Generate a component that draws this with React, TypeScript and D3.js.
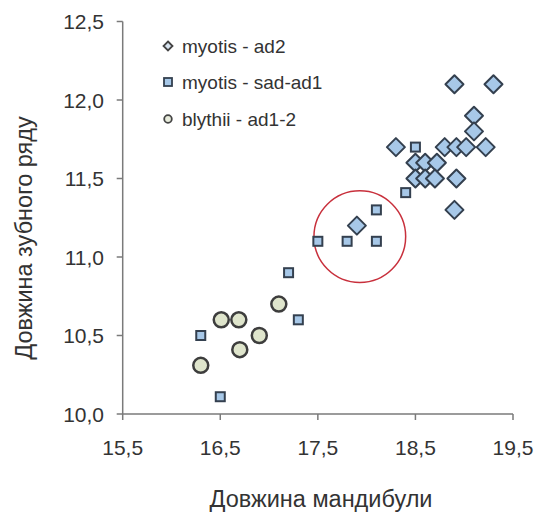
import React from "react";
import * as d3 from "d3";

const xTicks = [15.5, 16.5, 17.5, 18.5, 19.5];
const yTicks = [10.0, 10.5, 11.0, 11.5, 12.0, 12.5];

const adX = [18.3, 18.8, 18.92, 19.02, 19.22, 18.9, 19.3, 19.1, 19.1, 18.5, 18.6, 18.72, 18.5, 18.6, 18.7, 18.92, 18.9, 17.9];
const adY = [11.7, 11.7, 11.7, 11.7, 11.7, 12.1, 12.1, 11.9, 11.8, 11.6, 11.6, 11.6, 11.5, 11.5, 11.5, 11.5, 11.3, 11.2];

const sadX = [16.3, 16.5, 17.2, 17.3, 17.5, 17.8, 18.1, 18.1, 18.4, 18.5];
const sadY = [10.5, 10.11, 10.9, 10.6, 11.1, 11.1, 11.1, 11.3, 11.41, 11.7];

const blyX = [16.3, 16.51, 16.69, 16.7, 16.9, 17.1];
const blyY = [10.31, 10.6, 10.6, 10.41, 10.5, 10.7];

const legendLabels = ["myotis - ad2", "myotis - sad-ad1", "blythii - ad1-2"];
const xTitle = "Довжина мандибули";
const yTitle = "Довжина зубного ряду";

const highlightCenter = [17.93, 11.13];
const highlightRadius = 0.47;

const fmt = (v: number) => v.toFixed(1).replace(".", ",");

export default function App() {
  const W = 540, H = 513;
  const x = d3.scaleLinear().domain([15.5, 19.5]).range([122.7, 513]);
  const y = d3.scaleLinear().domain([10, 12.5]).range([414, 21.5]);
  const font = "Liberation Sans, Arial, sans-serif";
  const axisColor = "#7a7a7a";
  const textColor = "#333";
  const blueFill = "#a7c8e8";
  const blueStroke = "#34404f";

  const diamond = (cx: number, cy: number, r: number) =>
    `M${cx},${cy - r}L${cx + r},${cy}L${cx},${cy + r}L${cx - r},${cy}Z`;

  const rx = x(highlightCenter[0] + highlightRadius) - x(highlightCenter[0]);

  return (
    <svg width={W} height={H} style={{ position: "absolute", left: 0, top: 0, background: "#fff" }} fontFamily={font}>
      {/* axes */}
      <line x1={x(15.5)} x2={x(15.5)} y1={y(12.5)} y2={y(10)} stroke={axisColor} strokeWidth={1.5} />
      <line x1={x(15.5)} x2={x(19.5)} y1={y(10)} y2={y(10)} stroke={axisColor} strokeWidth={1.5} />
      {yTicks.map((t) => (
        <g key={"y" + t}>
          <line x1={x(15.5) - 6} x2={x(15.5)} y1={y(t)} y2={y(t)} stroke={axisColor} strokeWidth={1.5} />
          <text x={104} y={y(t)} dy="0.36em" textAnchor="end" fontSize={21} fill={textColor}>{fmt(t)}</text>
        </g>
      ))}
      {xTicks.map((t) => (
        <g key={"x" + t}>
          <line x1={x(t)} x2={x(t)} y1={y(10)} y2={y(10) + 6} stroke={axisColor} strokeWidth={1.5} />
          <text x={x(t)} y={455} textAnchor="middle" fontSize={21} fill={textColor}>{fmt(t)}</text>
        </g>
      ))}
      <text x={321} y={507} textAnchor="middle" fontSize={23.5} fill={textColor}>{xTitle}</text>
      <text transform={`translate(32,${238}) rotate(-90)`} textAnchor="middle" fontSize={23.5} fill={textColor}>{yTitle}</text>

      {/* highlight circle */}
      <ellipse cx={x(highlightCenter[0])} cy={y(highlightCenter[1])} rx={rx} ry={rx} fill="none" stroke="#c8303c" strokeWidth={1.5} />

      {/* blythii circles */}
      {blyX.map((v, i) => (
        <circle key={"b" + i} cx={x(v)} cy={y(blyY[i])} r={7.5} fill="#dfe5cc" stroke="#3d3d3d" strokeWidth={2.5} />
      ))}
      {/* myotis sad-ad1 squares */}
      {sadX.map((v, i) => (
        <rect key={"s" + i} x={x(v) - 4.5} y={y(sadY[i]) - 4.5} width={9} height={9} fill={blueFill} stroke={blueStroke} strokeWidth={2} />
      ))}
      {/* myotis ad2 diamonds */}
      {adX.map((v, i) => (
        <path key={"d" + i} d={diamond(x(v), y(adY[i]), 9)} fill={blueFill} stroke={blueStroke} strokeWidth={2} strokeLinejoin="round" />
      ))}

      {/* legend */}
      <g>
        <path d={diamond(168, 46, 4.5)} fill="#d8e4f0" stroke="#444" strokeWidth={1.8} />
        <text x={182} y={46} dy="0.36em" fontSize={19} fill={textColor}>{legendLabels[0]}</text>
        <rect x={164} y={78} width={8} height={8} fill={blueFill} stroke={blueStroke} strokeWidth={1.8} />
        <text x={182} y={82} dy="0.36em" fontSize={19} fill={textColor}>{legendLabels[1]}</text>
        <circle cx={168} cy={119} r={3.8} fill="#e8ecdc" stroke="#444" strokeWidth={1.8} />
        <text x={182} y={119} dy="0.36em" fontSize={19} fill={textColor}>{legendLabels[2]}</text>
      </g>
    </svg>
  );
}
